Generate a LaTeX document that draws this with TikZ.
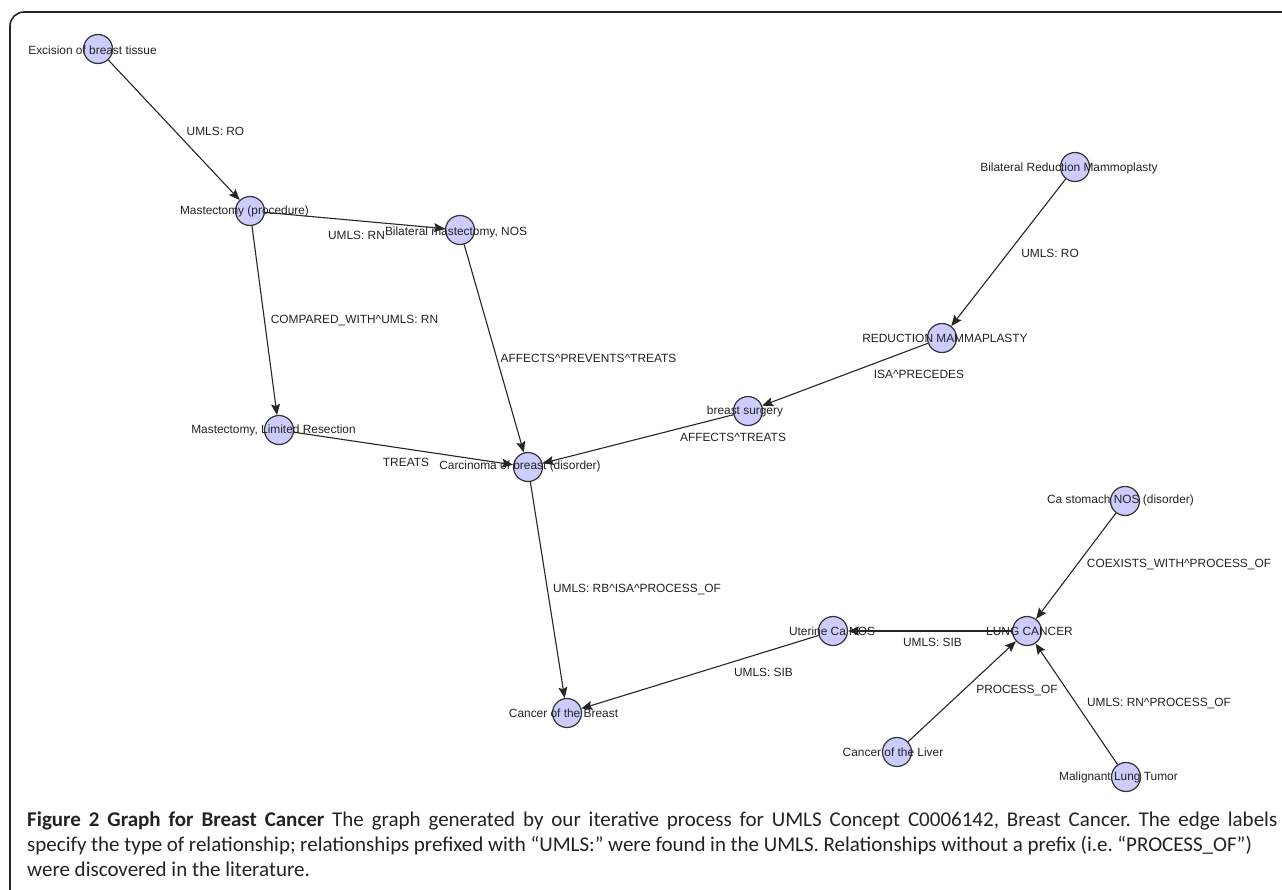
\documentclass[tikz,border=0pt]{standalone}
\usepackage{fontspec}
\setmainfont{Liberation Sans}
\newfontfamily\capfont{Carlito}
\usetikzlibrary{arrows.meta}
\definecolor{nodefill}{RGB}{204,204,255}
\definecolor{txt}{RGB}{35,35,35}
\frenchspacing
\newcommand{\capsize}{\fontsize{21}{25}\selectfont}
\begin{document}
\begin{tikzpicture}[x=1pt,y=-1pt,
  vert/.style={circle,draw=black!80,fill=nodefill,line width=1.2pt,minimum size=29pt,inner sep=0pt},
  nlab/.style={font=\fontsize{11.9}{13}\selectfont,text=txt,inner sep=0pt},
  elab/.style={font=\fontsize{11.9}{13}\selectfont,text=txt,inner sep=0pt},
  rel/.style={-{Stealth[length=11pt,width=9pt,inset=2pt]},line width=1.1pt,draw=black!85},
  capline/.style={anchor=base west,inner sep=0pt,text=txt}]
\useasboundingbox (0,0) rectangle (1282,889);
\fill[white] (0,0) rectangle (1282,889);
\draw[line width=1.6pt, black!85, rounded corners=14pt] (10,895) -- (10,12) -- (1295,12);

% circles
\node[vert] (exc) at (98,49) {};
\node[vert] (mast) at (250,211) {};
\node[vert] (bilm) at (460,230) {};
\node[vert] (mlr) at (279,430) {};
\node[vert] (carc) at (528,467) {};
\node[vert] (bsurg) at (748,411) {};
\node[vert] (redm) at (942,338) {};
\node[vert] (brm) at (1075,167) {};
\node[vert] (cob) at (567,713) {};
\node[vert] (ucn) at (833,631) {};
\node[vert] (lung) at (1027,631) {};
\node[vert] (cast) at (1125,501) {};
\node[vert] (liver) at (897,752) {};
\node[vert] (mlt) at (1126,777) {};

% node labels
\node[nlab] (lexc) at (92.5,50) {Excision of breast tissue};
\node[nlab] (lmast) at (244.5,211) {Mastectomy (procedure)};
\node[nlab] (lbilm) at (456,232) {Bilateral mastectomy, NOS};
\node[nlab] (lmlr) at (273.5,430) {Mastectomy, Limited Resection};
\node[nlab] (lcarc) at (520,466) {Carcinoma of breast (disorder)};
\node[nlab] (lbsurg) at (745,411) {breast surgery};
\node[nlab] (lredm) at (945,338) {REDUCTION MAMMAPLASTY};
\node[nlab] (lbrm) at (1069,168) {Bilateral Reduction Mammoplasty};
\node[nlab] (lcob) at (563.5,713) {Cancer of the Breast};
\node[nlab] (lucn) at (832,631) {Uterine Ca NOS};
\node[nlab] (llung) at (1029.5,631) {LUNG CANCER};
\node[nlab] (lcast) at (1120.5,500) {Ca stomach NOS (disorder)};
\node[nlab] (lliver) at (893,752) {Cancer of the Liver};
\node[nlab] (lmlt) at (1118.5,777) {Malignant Lung Tumor};

% edges
\draw[rel] (exc) -- (mast);
\draw[rel] (mast) -- (bilm);
\draw[rel] (mast) -- (mlr);
\draw[rel] (bilm) -- (carc);
\draw[rel] (mlr) -- (carc);
\draw[rel] (bsurg) -- (carc);
\draw[rel] (redm) -- (bsurg);
\draw[rel] (brm) -- (redm);
\draw[rel] (carc) -- (cob);
\draw[rel] (ucn) -- (cob);
\draw[rel] (lung) -- (ucn);
\draw[rel] (cast) -- (lung);
\draw[rel] (liver) -- (lung);
\draw[rel] (mlt) -- (lung);

% edge labels
\node[elab] (e1) at (215.5,131) {UMLS: RO};
\node[elab] (e2) at (356.5,235) {UMLS: RN};
\node[elab] (e3) at (354.5,321) {COMPARED\_WITH\textasciicircum UMLS: RN};
\node[elab] (e4) at (588.5,358) {AFFECTS\textasciicircum PREVENTS\textasciicircum TREATS};
\node[elab] (e5) at (406,462) {TREATS};
\node[elab] (e6) at (733,437) {AFFECTS\textasciicircum TREATS};
\node[elab] (e7) at (919,374) {ISA\textasciicircum PRECEDES};
\node[elab] (e8) at (1050,253) {UMLS: RO};
\node[elab] (e9) at (637,590) {UMLS: RB\textasciicircum ISA\textasciicircum PROCESS\_OF};
\node[elab] (e10) at (763.5,672) {UMLS: SIB};
\node[elab] (e11) at (932.5,642) {UMLS: SIB};
\node[elab] (e12) at (1179,565) {COEXISTS\_WITH\textasciicircum PROCESS\_OF};
\node[elab] (e13) at (1017,691) {PROCESS\_OF};
\node[elab] (e14) at (1159,704) {UMLS: RN\textasciicircum PROCESS\_OF};

% caption
\node[capline] (c1) at (27,826) {\capfont\capsize\makebox[1250pt][s]{\textbf{Figure 2 Graph for Breast Cancer} The graph generated by our iterative process for UMLS Concept C0006142, Breast Cancer. The edge labels}};
\node[capline] (c2) at (27,851) {\capfont\capsize\makebox[1225pt][s]{specify the type of relationship; relationships prefixed with “UMLS:” were found in the UMLS. Relationships without a prefix (i.e. “PROCESS\_OF”)}};
\node[capline] (c3) at (27,876) {\capfont\capsize were discovered in the literature.};
\end{tikzpicture}
\end{document}
